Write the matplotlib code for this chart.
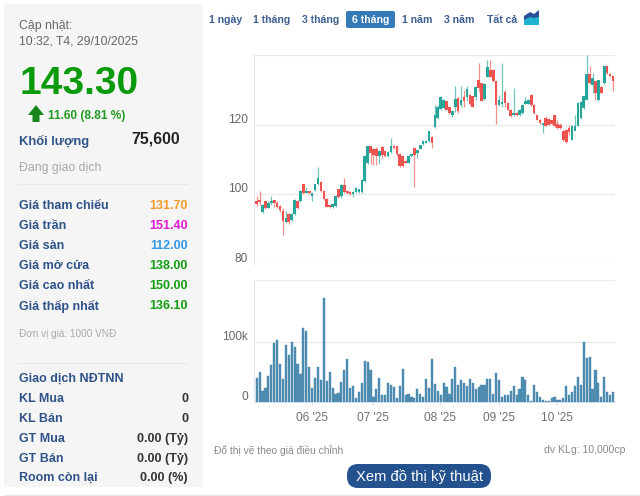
import numpy as np
from matplotlib import pyplot as plt
from matplotlib.patches import FancyBboxPatch, Polygon, Rectangle

plt.rcParams['font.family'] = ['Liberation Sans', 'DejaVu Sans']

# open, close, high, low
opens = [98.2,98.2,94.8,98.1,96.2,97.6,98.3,97.6,96.7,95.2,92.0,94.3,92.6,94.3,98.1,98.1,102.9,100.5,100.8,99.5,
         101.2,102.9,103.6,101.0,98.8,96.7,96.5,96.7,101.4,99.5,102.6,100.8,100.7,100.0,100.7,100.7,100.7,103.8,109.0,113.8,
         113.0,112.9,111.0,113.6,112.4,110.9,112.1,114.0,113.8,111.6,110.9,109.6,109.1,110.9,113.3,111.8,113.1,114.5,114.8,115.2,
         116.5,119.2,122.0,124.5,124.8,126.7,125.0,122.7,125.0,127.6,125.7,127.8,127.8,128.6,128.1,128.0,132.9,131.9,127.4,133.8,
         135.7,135.7,132.4,125.7,126.0,129.5,126.2,124.3,122.7,123.3,122.7,123.3,126.0,126.0,128.6,125.7,122.9,121.4,120.0,121.9,
         121.6,121.2,122.7,120.3,119.8,118.2,118.6,119.0,115.7,118.2,119.7,121.9,124.8,127.2,134.5,131.4,132.4,127.1,130.9,131.9,
         136.7,134.5,133.9]
closes = [97.3,97.8,96.9,96.2,97.6,98.2,97.6,96.4,95.5,92.4,93.3,92.0,94.3,98.3,96.2,101.0,100.5,101.0,100.3,100.3,
          102.9,104.8,101.0,98.6,96.5,96.3,97.1,99.5,99.3,102.6,100.7,100.4,100.0,100.7,101.8,101.4,104.1,111.0,113.8,112.0,
          111.3,110.9,112.4,111.4,110.9,112.1,114.0,113.3,111.6,108.0,108.1,109.1,111.0,111.4,111.4,112.6,114.1,115.2,115.4,118.1,
          114.8,122.7,125.0,127.9,127.1,124.3,123.3,123.8,127.4,123.8,127.0,126.7,130.2,125.9,125.2,130.9,130.5,126.9,131.7,136.5,
          133.8,132.4,125.7,127.0,126.4,126.2,124.3,122.4,123.3,122.7,124.3,125.7,126.7,127.2,125.7,123.3,121.4,120.5,120.3,119.7,
          120.0,120.3,119.5,119.0,119.0,115.6,115.0,118.0,119.7,119.7,126.2,126.5,128.1,134.5,131.9,133.5,129.0,132.7,129.2,136.7,
          134.8,133.9,132.6]
highs = [99.6,101.0,97.2,98.2,98.0,99.5,98.5,98.0,96.9,96.0,95.2,94.6,94.5,98.6,98.4,101.3,103.0,102.1,101.0,100.5,
         103.0,107.8,103.9,101.2,99.0,97.0,97.5,99.8,101.6,102.9,104.8,101.0,101.0,100.9,102.0,101.6,104.3,111.2,113.9,114.0,
         113.2,113.5,112.8,113.8,112.6,112.3,116.2,114.2,114.0,112.0,111.0,109.9,111.2,111.6,113.6,112.8,114.3,115.6,115.7,118.3,
         116.8,125.7,125.7,128.1,127.3,126.9,125.2,124.0,131.0,128.0,131.0,130.0,131.1,128.8,128.3,131.2,137.6,132.1,131.9,138.6,
         138.6,135.9,132.6,128.5,137.6,130.0,126.5,124.5,130.5,123.5,124.5,125.9,127.9,127.5,128.9,125.9,123.1,121.6,120.5,122.4,
         121.8,121.4,122.9,121.4,120.5,118.4,118.8,120.0,119.9,122.8,126.4,126.7,128.3,140.0,136.7,134.7,132.6,132.9,131.1,136.9,
         137.0,134.7,134.0]
lows = [96.7,96.9,94.5,95.8,96.0,96.8,96.5,96.2,95.0,88.3,91.8,91.5,92.4,94.0,95.8,97.8,100.0,100.3,100.0,98.0,
        101.0,102.6,100.8,98.4,96.3,96.1,96.2,96.5,99.0,99.0,100.5,100.2,99.8,99.2,100.5,100.5,100.5,103.6,108.8,108.8,
        108.4,108.5,108.7,110.5,110.7,110.7,111.9,113.1,111.0,107.8,107.8,108.9,108.9,110.7,102.1,110.5,112.9,114.3,114.6,115.0,
        113.4,119.0,121.5,124.3,124.6,124.1,123.1,122.2,123.5,123.3,125.0,125.0,126.9,125.7,125.0,127.0,129.5,126.7,127.2,133.6,
        133.6,132.2,120.3,125.5,125.0,125.0,124.1,122.2,122.4,122.5,122.5,123.1,125.8,125.8,125.5,123.1,121.2,120.3,117.5,119.5,
        119.8,120.1,119.3,118.8,118.8,115.4,114.8,117.0,115.5,119.5,119.6,121.7,124.6,127.0,131.7,129.0,127.1,126.9,129.0,131.7,
        134.6,133.7,129.6]
volumes = [40,50,18,24,43,61,99,104,64,39,95,79,100,92,64,47,124,118,59,24,
           40,59,37,174,35,50,24,13,15,34,53,72,24,27,6,17,32,68,66,
           53,9,22,40,11,11,32,29,25,6,27,55,12,14,8,6,22,14,9,
           39,24,71,30,19,11,32,25,14,39,58,29,36,32,27,39,31,22,25,28,
           28,39,39,13,48,36,9,11,11,19,27,11,21,42,37,11,2,29,17,8,
           3,2,2,7,9,3,4,7,26,12,17,27,41,29,100,74,75,22,54,32,
           8,42,16,11,17]
price_ticks = [80, 100, 120, 140]
price_labels = ['80', '100', '120']
volume_ticks = [0, 100, 204]
month_pos = [19, 40, 62.7, 83, 103]
month_labels = ["06 '25", "07 '25", "08 '25", "09 '25", "10 '25"]

tabs = ['1 ngày', '1 tháng', '3 tháng', '6 tháng', '1 năm', '3 năm', 'Tất cả']
tab_x = [209, 253, 302, 352, 402.5, 444, 487]

price_rows = ['Giá tham chiếu', 'Giá trần', 'Giá sàn', 'Giá mở cửa', 'Giá cao nhất', 'Giá thấp nhất']
price_vals = ['131.70', '151.40', '112.00', '138.00', '150.00', '136.10']
price_cols = ['#f39a2b', '#e01ad0', '#3596e6', '#129c12', '#129c12', '#129c12']
foreign_rows = ['KL Mua', 'KL Bán', 'GT Mua', 'GT Bán', 'Room còn lại']
foreign_vals = ['0', '0', '0.00 (Tỷ)', '0.00 (Tỷ)', '0.00 (%)']

NAVY = '#2f5288'
UP = '#26a69a'
DOWN = '#ef5350'
GRID = '#ebebeb'
W, H = 640, 496

fig = plt.figure(figsize=(6.4, 4.96), dpi=100, facecolor='white')

# page layer in pixels for the info panel and tabs
page = fig.add_axes([0, 0, 1, 1])
page.set_xlim(0, W)
page.set_ylim(H, 0)
page.axis('off')

page.add_patch(Rectangle((4, 4), 199, 483, fc='#f5f5f5', ec='none'))
page.plot([4, 640], [495, 495], color='#e8e8e8', lw=1)
page.plot([18, 188], [184, 184], color='#e9e9e9', lw=0.8)
page.plot([18, 188], [363, 363], color='#e9e9e9', lw=0.8)

page.text(19, 26.5, 'Cập nhật:', fontsize=8.8, color='#666666', va='center')
page.text(19, 41.5, '10:32, T4, 29/10/2025', fontsize=8.8, color='#666666', va='center')
page.text(20, 84.5, '143.30', fontsize=28, fontweight='bold', color='#0b9a0b', va='center')
page.add_patch(Polygon([(28, 115), (36, 105), (44, 115), (39.5, 115), (39.5, 122), (32.5, 122), (32.5, 115)],
                       fc='#17861d', ec='none'))
page.text(48, 115.5, '11.60 (8.81 %)', fontsize=8.6, fontweight='bold', color='#239a23', va='center')
page.text(19, 141.5, 'Khối lượng', fontsize=9.4, fontweight='bold', color=NAVY, va='center')
page.text(180, 139.5, '75,600', fontsize=11.4, fontweight='bold', color='#222222', va='center', ha='right')
page.text(19, 168, 'Đang giao dịch', fontsize=8.8, color='#a8a8a8', va='center')
for i in range(len(price_rows)):
    page.text(19, 206 + 20 * i, price_rows[i], fontsize=9, fontweight='bold', color=NAVY, va='center')
    page.text(188, 206 + 20 * i, price_vals[i], fontsize=9, fontweight='bold', color=price_cols[i], va='center', ha='right')
page.text(19, 334, 'Đơn vị giá: 1000 VNĐ', fontsize=7.2, color='#aaaaaa', va='center')
page.text(19, 379, 'Giao dịch NĐTNN', fontsize=9, fontweight='bold', color=NAVY, va='center')
for i in range(len(foreign_rows)):
    page.text(19, 399 + 20 * i - (i == 4), foreign_rows[i], fontsize=9, fontweight='bold', color=NAVY, va='center')
    page.text(188, 399 + 20 * i - (i == 4), foreign_vals[i], fontsize=9, fontweight='bold', color='#333333', va='center', ha='right')

page.add_patch(FancyBboxPatch((346, 11), 49, 17, boxstyle='round,pad=0,rounding_size=2', fc='#337ab7', ec='none'))
for i in range(len(tabs)):
    page.text(tab_x[i], 20, tabs[i], fontsize=7.6, fontweight='bold',
              color='white' if tabs[i] == '6 tháng' else '#3e5f92', va='center')
# small area icon next to the tabs
page.add_patch(Rectangle((524, 16), 15, 8.5, fc='#1fb3d1', ec='none'))
page.add_patch(Polygon([(524, 20), (524, 16), (530, 12), (534, 14), (539, 10), (539, 17), (534, 18), (530, 17)],
                       fc='#2a4f9a', ec='none'))

page.text(214, 450, 'Đổ thị vẽ theo giá điều chỉnh', fontsize=7.4, color='#8a8a8a', va='center')
page.text(625, 450, 'dv KLg: 10,000cp', fontsize=7.6, color='#8a8a8a', va='center', ha='right')
page.add_patch(FancyBboxPatch((347, 464), 144, 24, boxstyle='round,pad=0,rounding_size=11', fc='#23528f', ec='none'))
page.text(419, 476.5, 'Xem đồ thị kỹ thuật', fontsize=10.6, color='white', va='center', ha='center')


def px_axes(left, top, right, bottom):
    return fig.add_axes([left / W, 1 - bottom / H, (right - left) / W, (bottom - top) / H])


# price panel
ax = px_axes(254, 55, 615, 264)
idx = np.arange(len(opens))
o = np.array(opens)
c = np.array(closes)
cols = [UP if c[i] >= o[i] else DOWN for i in idx]
ax.vlines(idx, lows, highs, colors=cols, lw=0.9, alpha=0.65, zorder=2)
ax.bar(idx, np.maximum(np.abs(c - o), 0.6), bottom=np.minimum(o, c), width=0.9, color=cols, zorder=3)
ax.set_xlim(-0.92, 122.7)
ax.set_ylim(80, 140)
ax.set_yticks(price_ticks)
ax.grid(axis='y', color=GRID, lw=1)
ax.set_axisbelow(True)
ax.tick_params(left=False, bottom=False, labelleft=False, labelbottom=False)
for s in ['top', 'right', 'bottom']:
    ax.spines[s].set_visible(False)
ax.spines['left'].set_color('#e3e8f0')
for i in range(len(price_labels)):
    ax.annotate(price_labels[i], xy=(0, int(price_labels[i])), xycoords=ax.get_yaxis_transform(),
                xytext=(-6, 5), textcoords='offset pixels', ha='right', va='center', fontsize=8.6, color='#666666')

# volume panel
ax2 = px_axes(254, 279.5, 615, 402)
ax2.bar(np.arange(len(volumes)), volumes, width=0.74, color='#4f8fb3', edgecolor='#4a84a6', lw=0.3, zorder=3)
ax2.set_xlim(-0.92, 122.7)
ax2.set_ylim(0, 204)
ax2.set_yticks(volume_ticks)
ax2.set_xticks(month_pos)
ax2.set_xticklabels(month_labels, fontsize=8.6, color='#707070')
ax2.grid(axis='y', color=GRID, lw=1)
ax2.set_axisbelow(True)
ax2.tick_params(left=False, labelleft=False)
ax2.tick_params(axis='x', length=5, width=0.8, color='#d5def0', pad=5, direction='inout')
for s in ['top', 'right']:
    ax2.spines[s].set_visible(False)
ax2.spines['left'].set_color('#e3e8f0')
ax2.spines['bottom'].set_color('#d5def0')
ax2.annotate('100k', xy=(0, 100), xycoords=ax2.get_yaxis_transform(), xytext=(-6, 5),
             textcoords='offset pixels', ha='right', va='center', fontsize=8.6, color='#666666')
ax2.annotate('0', xy=(0, 0), xycoords=ax2.get_yaxis_transform(), xytext=(-6, 5),
             textcoords='offset pixels', ha='right', va='center', fontsize=8.6, color='#666666')

fig.savefig('out.png', dpi=100)
